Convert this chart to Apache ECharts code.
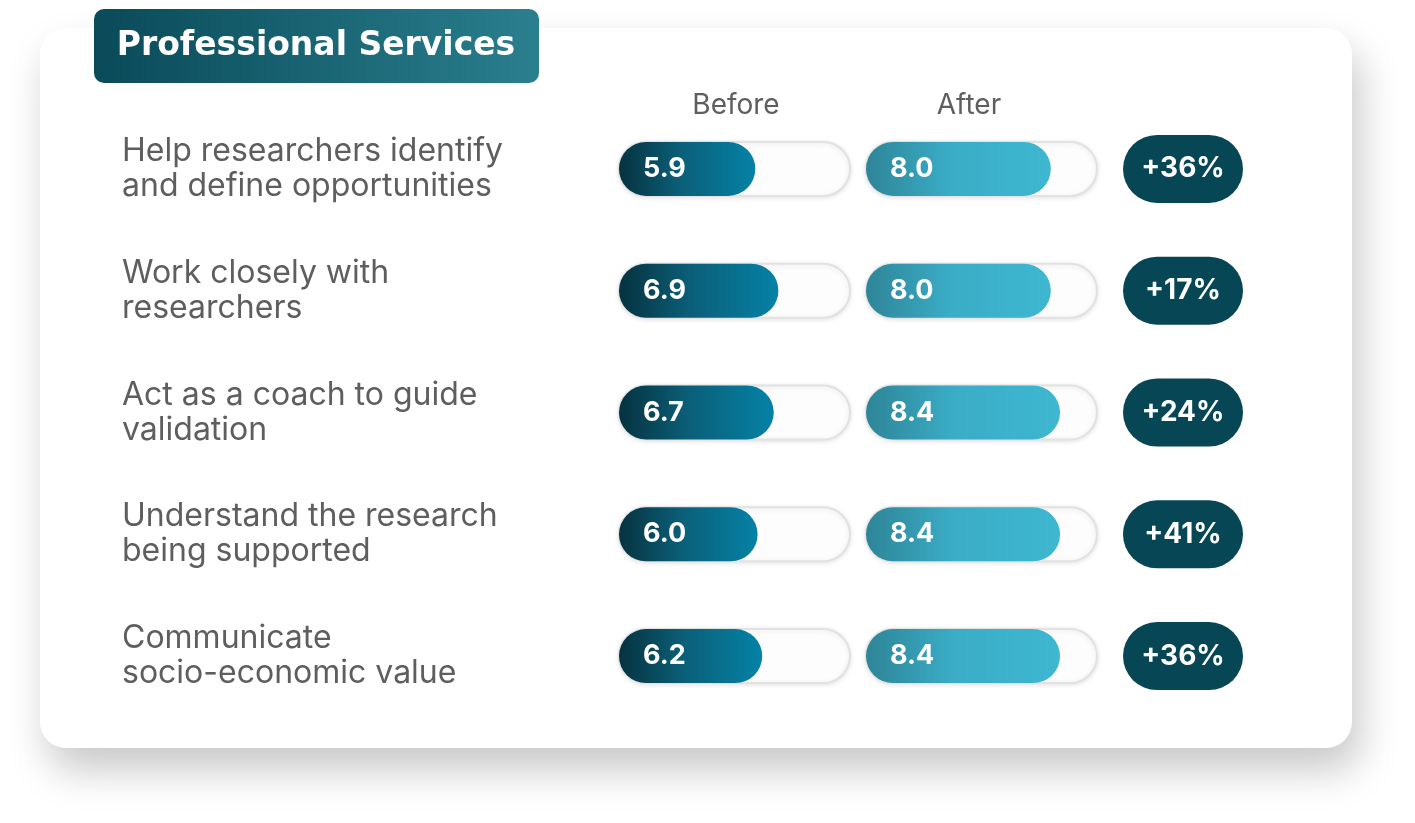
<!DOCTYPE html>
<html>
<head>
<meta charset="utf-8">
<script src="https://cdn.jsdelivr.net/npm/echarts@6/dist/echarts.min.js"></script>
<style>
html,body{margin:0;padding:0;background:#fff;}
#chart{width:1415px;height:823px;}
</style>
</head>
<body>
<div id="chart"></div>
<script>
const categories = [
  'Help researchers identify\nand define opportunities',
  'Work closely with\nresearchers',
  'Act as a coach to guide\nvalidation',
  'Understand the research\nbeing supported',
  'Communicate\nsocio-economic value'
];
const beforeValues = [5.9, 6.9, 6.7, 6.0, 6.2];
const afterValues = [8.0, 8.0, 8.4, 8.4, 8.4];
const changeLabels = ['+36%', '+17%', '+24%', '+41%', '+36%'];
const seriesNames = ['Before', 'After'];
const titleText = 'Professional Services';
const scaleMax = 10;

const chart = echarts.init(document.getElementById('chart'), null, {renderer: 'canvas'});

const rowTop = 108, rowHeight = 609;
const barW = 54;

function grad(c0, c1, c2) {
  return new echarts.graphic.LinearGradient(0, 0, 1, 0, [
    {offset: 0, color: c0}, {offset: 0.45, color: c1}, {offset: 1, color: c2}
  ]);
}

const valueLabel = {
  show: true, position: 'insideLeft', distance: 24,
  color: '#fff', fontFamily: 'Inter', fontWeight: 'bold', fontSize: 27,
  formatter: p => p.value.toFixed(1)
};
const trackStyle = {
  color: '#fdfdfd', borderColor: '#e2e2e2', borderWidth: 2,
  borderRadius: 27, shadowBlur: 5, shadowColor: 'rgba(0,0,0,0.10)', shadowOffsetY: 1
};

const option = {
  backgroundColor: '#ffffff',
  animation: false,
  graphic: [
    {type: 'rect', shape: {x: 40, y: 28, width: 1312, height: 720, r: 26},
     style: {fill: '#ffffff', shadowBlur: 40, shadowColor: 'rgba(0,0,0,0.22)', shadowOffsetX: 8, shadowOffsetY: 22}, z: -10},
    {type: 'rect', shape: {x: 94, y: 9, width: 445, height: 74, r: 10},
     style: {fill: new echarts.graphic.LinearGradient(0, 0, 1, 0, [{offset: 0, color: '#0a4a59'}, {offset: 1, color: '#2a7f8e'}])}, z: 10},
    {type: 'text', x: 316, y: 46, z: 11,
     style: {text: titleText, fill: '#fff', font: 'bold 33px "DejaVu Sans", sans-serif', align: 'center', verticalAlign: 'middle'}},
    {type: 'text', x: 736, y: 106, z: 11,
     style: {text: seriesNames[0], fill: '#5e5e5e', font: '28px Inter, sans-serif', align: 'center', verticalAlign: 'middle'}},
    {type: 'text', x: 969, y: 106, z: 11,
     style: {text: seriesNames[1], fill: '#5e5e5e', font: '28px Inter, sans-serif', align: 'center', verticalAlign: 'middle'}}
  ],
  grid: [
    {left: 619, width: 231, top: rowTop, height: rowHeight},
    {left: 866, width: 231, top: rowTop, height: rowHeight},
    {left: 1123, width: 120, top: rowTop, height: rowHeight}
  ],
  xAxis: [0, 1, 2].map(i => ({
    gridIndex: i, type: 'value', min: 0, max: i === 2 ? 1 : scaleMax,
    show: false
  })),
  yAxis: [0, 1, 2].map(i => ({
    gridIndex: i, type: 'category', data: categories, inverse: true,
    axisLine: {show: false}, axisTick: {show: false}, splitLine: {show: false},
    axisLabel: i === 0 ? {
      show: true, align: 'left', margin: 497, color: '#5e5e5e',
      fontFamily: 'Inter', fontSize: 32, lineHeight: 35, padding: [0, 0, 6, 0]
    } : {show: false}
  })),
  series: [
    {
      name: seriesNames[0], type: 'bar', xAxisIndex: 0, yAxisIndex: 0,
      data: beforeValues, barWidth: barW,
      showBackground: true, backgroundStyle: trackStyle,
      itemStyle: {color: grad('#06323f', '#0b5f78', '#0582a6'), borderRadius: 27},
      label: valueLabel
    },
    {
      name: seriesNames[1], type: 'bar', xAxisIndex: 1, yAxisIndex: 1,
      data: afterValues, barWidth: barW,
      showBackground: true, backgroundStyle: trackStyle,
      itemStyle: {color: grad('#2e8597', '#3aacc6', '#3eb7d1'), borderRadius: 27},
      label: valueLabel
    },
    {
      name: 'Change', type: 'bar', xAxisIndex: 2, yAxisIndex: 2,
      data: changeLabels.map(() => 1), barWidth: 68,
      itemStyle: {color: '#064655', borderRadius: 34},
      label: {
        show: true, position: 'inside', color: '#fff',
        fontFamily: 'Inter', fontWeight: 'bold', fontSize: 28,
        formatter: p => changeLabels[p.dataIndex]
      }
    }
  ]
};
chart.setOption(option);
</script>
</body>
</html>
